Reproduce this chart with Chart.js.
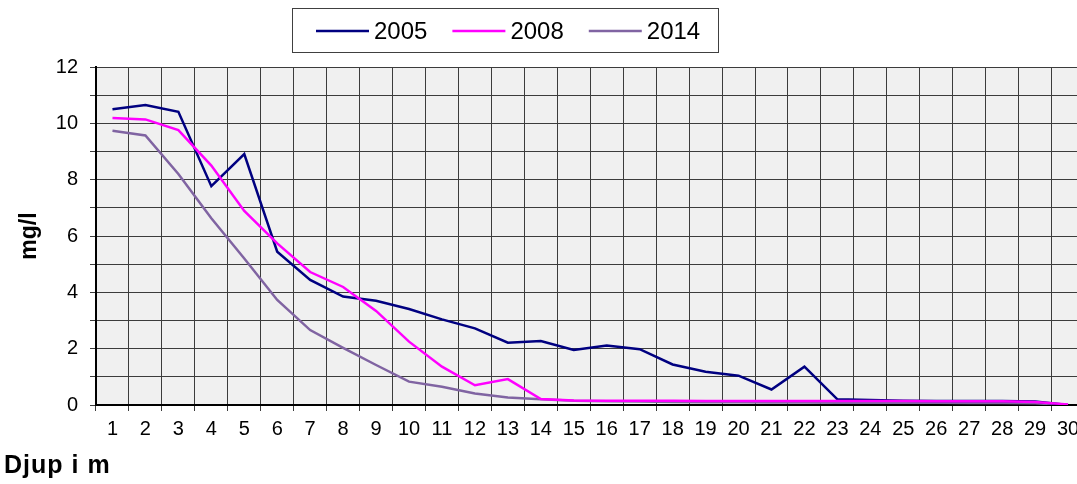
<!DOCTYPE html>
<html><head><meta charset="utf-8">
<script src="https://cdn.jsdelivr.net/npm/chart.js@4"></script>
<style>html,body{margin:0;padding:0;overflow:hidden;background:#fff}#wrap{width:1100px;height:484px}</style>
</head><body><div id="wrap"><canvas id="c" width="1100" height="484"></canvas></div>
<script>
const depths = ['1','2','3','4','5','6','7','8','9','10','11','12','13','14','15','16','17','18','19','20','21','22','23','24','25','26','27','28','29','30'];
const series2005 = [10.50,10.65,10.41,7.77,8.91,5.44,4.44,3.85,3.70,3.41,3.04,2.72,2.21,2.27,1.95,2.11,1.98,1.44,1.18,1.04,0.55,1.36,0.20,0.18,0.15,0.14,0.14,0.14,0.12,0.00];
const series2008 = [10.19,10.14,9.76,8.50,6.89,5.74,4.72,4.19,3.34,2.25,1.36,0.70,0.92,0.21,0.16,0.15,0.15,0.15,0.14,0.14,0.14,0.14,0.14,0.14,0.14,0.13,0.13,0.13,0.11,0.02];
const series2014 = [9.74,9.57,8.20,6.63,5.20,3.73,2.66,2.03,1.42,0.83,0.65,0.41,0.27,0.20,0.15,0.13,0.12,0.11,0.10,0.10,0.09,0.09,0.08,0.08,0.08,0.08,0.07,0.07,0.06,0.00];
const seriesNames = ['2005','2008','2014'];
const seriesColors = ['#000080','#ff00ff','#8064a2'];
const yTitle = 'mg/l';
const xTitle = 'Djup i m';

const FONT = "'Liberation Sans', Arial, sans-serif";

const bgPlugin = {
  id: 'bg',
  beforeDraw(chart) {
    const {ctx, chartArea: a} = chart;
    ctx.save();
    ctx.fillStyle = '#f0f0f0';
    ctx.fillRect(a.left, a.top, a.right - a.left, a.bottom - a.top);
    ctx.restore();
  }
};

const legendPlugin = {
  id: 'boxLegend',
  afterDraw(chart) {
    const ctx = chart.ctx;
    ctx.save();
    ctx.strokeStyle = '#404040';
    ctx.lineWidth = 1;
    ctx.strokeRect(292.5, 8.5, 426, 44);
    ctx.font = '24px ' + FONT;
    ctx.textBaseline = 'middle';
    ctx.textAlign = 'left';
    let x = 316;
    const y = 31;
    chart.data.datasets.forEach(ds => {
      ctx.strokeStyle = ds.borderColor;
      ctx.lineWidth = 2.5;
      ctx.beginPath();
      ctx.moveTo(x, y);
      ctx.lineTo(x + 53, y);
      ctx.stroke();
      ctx.fillStyle = '#000';
      ctx.fillText(ds.label, x + 58, y + 1);
      x += 58 + ctx.measureText(ds.label).width + 25;
    });
    ctx.font = 'bold 25px ' + FONT;
    ctx.textBaseline = 'alphabetic';
    try { ctx.letterSpacing = '1px'; } catch (e) {}
    ctx.fillText(xTitle, 4, 473);
    ctx.restore();
  }
};

const datasets = [series2005, series2008, series2014].map((d, i) => ({
  label: seriesNames[i],
  data: d,
  borderColor: seriesColors[i],
  backgroundColor: seriesColors[i],
  borderWidth: 2.5,
  pointRadius: 0,
  tension: 0,
  fill: false,
  order: [1, 0, 2][i]
}));

new Chart(document.getElementById('c'), {
  type: 'line',
  data: { labels: depths, datasets },
  plugins: [bgPlugin, legendPlugin],
  options: {
    responsive: false,
    animation: false,
    devicePixelRatio: 1,
    layout: { padding: { top: 67, right: 15.5, bottom: 0, left: 0 } },
    plugins: { legend: { display: false }, tooltip: { enabled: false }, title: { display: false } },
    scales: {
      x: {
        offset: true,
        grid: { offset: true, color: '#3c3c3c', lineWidth: 1, tickLength: 6, drawTicks: true },
        border: { color: '#000', width: 2 },
        ticks: { autoSkip: false, maxRotation: 0, padding: 6, color: '#000', font: { family: FONT, size: 20 } },
        afterFit(scale) { scale.height = 79; }
      },
      y: {
        min: 0, max: 12,
        grid: { color: '#3c3c3c', lineWidth: 1, tickLength: 6 },
        border: { color: '#000', width: 2 },
        ticks: { stepSize: 1, padding: 12, color: '#000', font: { family: FONT, size: 20 },
          callback: v => (v % 2 === 0 ? String(v) : '') },
        title: { display: true, text: yTitle, color: '#000', font: { family: FONT, size: 23, weight: 'bold' }, padding: { top: 16, bottom: 0 } },
        afterFit(scale) { scale.width = 96; }
      }
    }
  }
});
</script>
</body></html>
